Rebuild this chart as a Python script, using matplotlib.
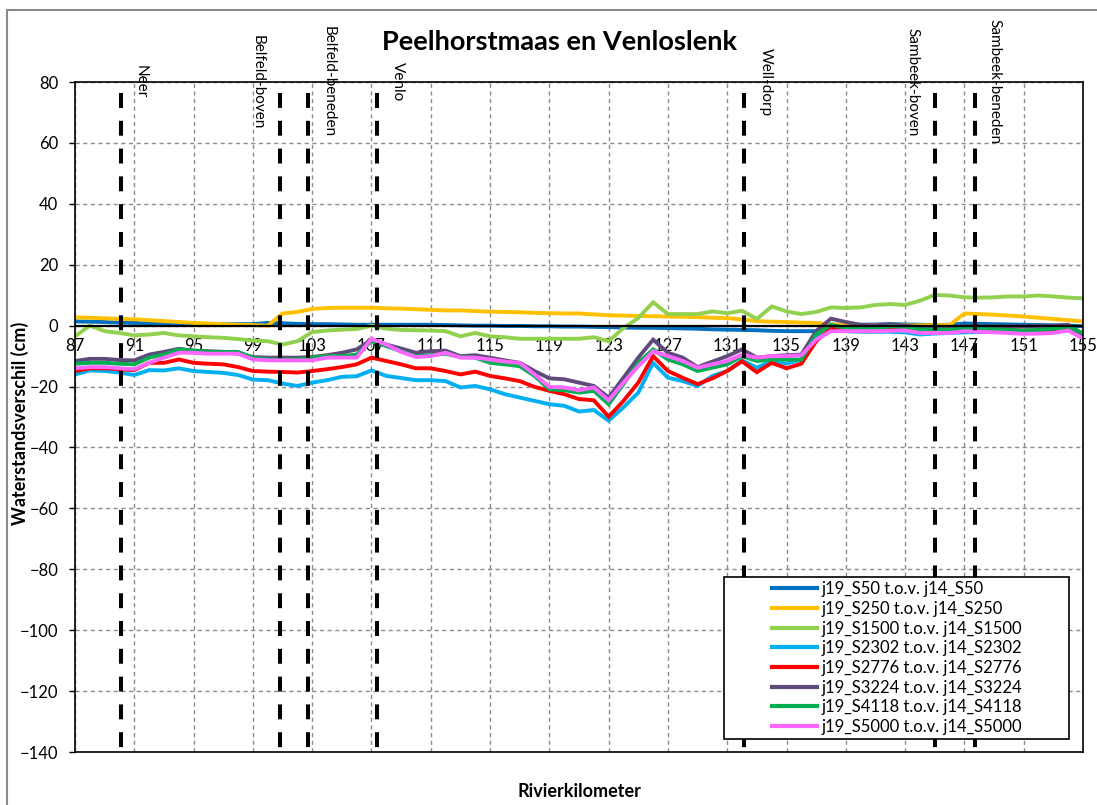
import numpy as np
import matplotlib.pyplot as plt
from matplotlib.patches import Rectangle
from matplotlib.lines import Line2D

plt.rcParams['font.family'] = ['Lato', 'DejaVu Sans']

# Rivierkilometers
km = np.arange(87, 156)

# Waterstandsverschil per scenario (cm)
s50 = [1.4, 1.3, 1.2, 1.0, 0.9, 0.8, 0.7, 0.6, 0.5, 0.5, 0.5, 0.5, 0.5, 0.9, 0.8, 0.6, 0.5, 0.5, 0.4, 0.3,
       0.3, 0.3, 0.3, 0.3, 0.3, 0.2, 0.1, 0.0, 0.0, -0.1, -0.1, -0.2, -0.2, -0.3, -0.3, -0.4, -0.5, -0.6, -0.7,
       -0.7, -0.8, -0.9, -1.0, -1.2, -1.3, -1.4, -1.5, -1.7, -1.8, -1.8, -1.8, 0.3, 0.3, 0.3, 0.4, 0.5, 0.4,
       0.3, 0.2, 0.3, 0.7, 0.6, 0.5, 0.4, 0.3, 0.2, 0.1, 0.0, -0.2]
s250 = [2.7, 2.6, 2.4, 2.2, 2.1, 1.8, 1.5, 1.2, 0.9, 0.7, 0.5, 0.3, 0.2, 0.0, 4.0, 4.5, 5.5, 5.8, 5.9, 5.9,
        5.9, 5.7, 5.6, 5.4, 5.2, 5.0, 5.0, 4.8, 4.6, 4.5, 4.4, 4.2, 4.1, 4.0, 4.0, 3.7, 3.4, 3.3, 3.2, 3.1,
        3.0, 2.9, 2.8, 2.6, 2.5, 2.0, 1.5, 1.3, 1.2, 1.0, 0.9, 0.4, 0.3, 0.2, 0.2, 0.2, 0.1, 0.1, 0.2, 0.2,
        4.0, 3.8, 3.6, 3.3, 3.0, 2.6, 2.2, 1.8, 1.4]
s1500 = [-3.5, 0.0, -1.8, -2.4, -3.2, -2.9, -2.4, -3.2, -3.5, -3.8, -4.0, -4.4, -4.9, -5.1, -6.2, -5.1,
         -2.1, -1.6, -1.3, -1.1, 0.0, -1.0, -1.4, -1.5, -1.6, -1.8, -3.5, -2.4, -3.5, -3.8, -4.3, -4.3, -4.3,
         -4.3, -4.3, -3.8, -5.1, -0.8, 2.5, 7.7, 3.8, 3.8, 3.8, 4.7, 4.1, 4.9, 2.2, 6.3, 4.7, 3.8, 4.5, 6.0,
         5.8, 6.0, 6.8, 7.1, 6.8, 8.2, 10.1, 9.9, 9.3, 9.2, 9.3, 9.6, 9.6, 9.9, 9.6, 9.2, 9.0]
s2302 = [-16.0, -14.7, -14.9, -15.4, -16.2, -14.6, -14.7, -14.0, -14.9, -15.2, -15.5, -16.2, -17.7, -17.9,
         -19.0, -19.8, -18.7, -17.9, -16.8, -16.6, -14.7, -16.5, -17.2, -17.9, -17.9, -18.2, -20.3, -19.8,
         -20.9, -22.5, -23.6, -24.7, -25.8, -26.3, -28.2, -27.7, -31.2, -26.8, -22.0, -12.2, -17.1, -18.2,
         -19.8, -16.5, -14.9, -11.4, -13.8, -11.6, -12.5, -11.1, -4.0, -1.6, -1.8, -2.0, -2.0, -2.0, -2.2,
         -2.9, -2.6, -2.4, -2.2, -2.1, -2.1, -2.1, -2.1, -2.0, -1.8, -0.8, -2.7]
s2776 = [-14.9, -14.0, -14.0, -14.3, -14.6, -12.2, -12.2, -11.1, -12.2, -12.5, -12.7, -13.6, -14.9, -15.1,
         -15.2, -15.4, -14.9, -14.3, -13.6, -12.7, -10.5, -11.6, -12.7, -14.0, -14.0, -14.9, -16.0, -15.1,
         -16.5, -17.3, -18.2, -20.1, -21.4, -22.5, -24.1, -24.5, -29.9, -24.7, -18.7, -10.0, -14.9, -17.1,
         -19.2, -17.3, -14.9, -11.7, -15.3, -12.2, -14.0, -12.5, -5.1, -0.8, -1.3, -1.3, -1.2, -1.0, -1.2,
         -1.3, -1.3, -1.4, -1.3, -1.3, -1.4, -1.5, -1.6, -1.5, -1.3, -0.8, -2.4]
s3224 = [-11.6, -10.9, -10.9, -11.3, -11.4, -9.5, -8.6, -7.6, -8.2, -8.4, -8.6, -9.2, -10.3, -10.5, -10.5,
         -10.5, -10.3, -9.7, -8.9, -7.8, -4.6, -6.2, -7.5, -8.9, -8.4, -8.2, -10.0, -9.7, -10.5, -11.4,
         -12.2, -14.9, -17.3, -17.6, -18.7, -19.8, -23.6, -17.1, -10.5, -4.6, -8.9, -10.5, -13.6, -11.8,
         -10.0, -7.8, -10.5, -10.0, -9.7, -9.5, -1.8, 2.3, 1.2, 0.3, 0.1, 0.5, 0.0, -0.5, -0.9, -0.5, -0.2,
         -0.2, -0.2, -0.2, -0.2, -0.1, 0.0, 0.3, -2.9]
s4118 = [-12.5, -12.2, -12.2, -12.5, -12.7, -10.5, -9.5, -7.8, -8.2, -8.6, -8.6, -8.6, -10.5, -11.1, -11.1,
         -11.1, -10.5, -10.0, -10.0, -9.5, -5.1, -6.7, -8.4, -10.0, -9.7, -9.2, -10.3, -10.5, -12.2, -12.7,
         -13.3, -16.5, -20.9, -21.2, -22.0, -21.4, -25.8, -19.2, -12.2, -7.8, -11.1, -12.7, -14.9, -13.8,
         -12.7, -10.0, -11.6, -11.1, -11.1, -11.1, -2.9, 0.3, -0.8, -1.0, -1.0, -0.2, -0.5, -1.3, -1.3, -1.3,
         -1.0, -1.1, -1.2, -1.4, -1.6, -1.4, -1.0, -0.5, -2.4]
s5000 = [-14.0, -13.6, -13.6, -14.0, -14.3, -12.2, -10.5, -8.9, -8.9, -9.2, -9.2, -9.2, -11.1, -11.4, -11.4,
         -11.4, -11.4, -10.5, -10.5, -10.5, -4.3, -6.2, -8.6, -10.3, -10.0, -8.9, -10.5, -10.5, -11.1, -11.8,
         -12.2, -16.0, -20.1, -20.3, -21.2, -20.3, -24.5, -18.7, -13.3, -8.4, -10.0, -11.6, -13.8, -12.7,
         -11.6, -9.5, -10.5, -10.0, -10.0, -9.7, -4.6, -1.8, -1.8, -1.8, -1.8, -1.7, -1.6, -2.4, -2.4, -2.4,
         -1.8, -2.0, -2.2, -2.4, -2.7, -2.6, -2.4, -1.6, -4.2]

series = [s50, s250, s1500, s2302, s2776, s3224, s4118, s5000]
labels = ['j19_S50 t.o.v. j14_S50', 'j19_S250 t.o.v. j14_S250', 'j19_S1500 t.o.v. j14_S1500',
          'j19_S2302 t.o.v. j14_S2302', 'j19_S2776 t.o.v. j14_S2776', 'j19_S3224 t.o.v. j14_S3224',
          'j19_S4118 t.o.v. j14_S4118', 'j19_S5000 t.o.v. j14_S5000']
colors = ['#0070C0', '#FFC000', '#92D050', '#00B0F0', '#FF0000', '#604A7B', '#00B050', '#FF66FF']

# Locaties (stuwen / plaatsen)
loc_km = [90.1, 100.8, 102.7, 107.4, 132.1, 145.0, 147.7]
loc_names = ['Neer', 'Belfeld-boven', 'Belfeld-beneden', 'Venlo', 'Well-dorp', 'Sambeek-boven', 'Sambeek-beneden']
loc_label_km = [91.4, 99.3, 104.1, 108.8, 133.6, 143.5, 149.0]

y_min, y_max = -140, 80

fig = plt.figure(figsize=(10.97, 8.05), dpi=100)
ax = fig.add_axes([0.0684, 0.0658, 0.9188, 0.8323])

for vals, lab, col in zip(series, labels, colors):
    ax.plot(km, vals, color=col, lw=2.8, label=lab, solid_joinstyle='miter')

# zwarte stippellijnen voor de locaties
for xk in loc_km:
    ax.plot([xk, xk], [76.5, y_min], color='black', lw=2.9, dashes=(3.7, 3.2),
            dash_capstyle='butt', zorder=5)
for xk, name in zip(loc_label_km, loc_names):
    ax.text(xk, y_max, name, rotation=270, ha='center', va='center', fontsize=11,
            clip_on=False, zorder=6)

ax.set_xlim(87, 155)
ax.set_ylim(y_min, y_max)
ax.set_xticks(np.arange(87, 156, 4))
ax.set_yticks(np.arange(-140, 81, 20))
ax.grid(True, color='#8c8c8c', linestyle=(0, (3, 2.5)), lw=1)
ax.tick_params(axis='x', length=0, labelbottom=False)
ax.tick_params(axis='y', direction='out', length=4, width=1, labelsize=12, pad=8)
for sp in ax.spines.values():
    sp.set_linewidth(1.2)

# x-as met labels op de nullijn
ax.axhline(0, color='black', lw=1.6, zorder=2)
secax = ax.secondary_xaxis((0 - y_min) / (y_max - y_min))
secax.set_xticks(np.arange(87, 156, 4))
secax.xaxis.set_ticks_position('bottom')
secax.tick_params(axis='x', length=0, labelsize=12, pad=9,
                  bottom=True, top=False, labelbottom=True, labeltop=False)
for sp in secax.spines.values():
    sp.set_visible(False)

ax.set_ylabel('Waterstandsverschil (cm)', fontsize=13, fontweight='bold')
ax.yaxis.set_label_coords(-0.046, 0.49)
ax.set_xlabel('Rivierkilometer', fontsize=13, fontweight='bold', labelpad=22)
fig.text(0.51, 0.948, 'Peelhorstmaas en Venloslenk', ha='center', va='center',
         fontsize=19.5, fontweight='bold')

ax.add_patch(Rectangle((0.6438, 0.0194), 0.3423, 0.2418, transform=ax.transAxes,
                       facecolor='white', edgecolor='black', lw=1.2, zorder=8))
leg = ax.legend(loc='center', bbox_to_anchor=(0.8155, 0.1403), frameon=False, fontsize=12,
                handlelength=2.7, handletextpad=0.25, labelspacing=0.22, borderpad=0)
leg.set_zorder(9)
for h in leg.get_lines():
    h.set_linewidth(3)

# kader om de grafiek
fig.add_artist(Line2D([7 / 1097, 7 / 1097], [0, 1 - 10 / 805], color='#8c8c8c', lw=1.5))
fig.add_artist(Line2D([7 / 1097, 1], [1 - 10 / 805, 1 - 10 / 805], color='#8c8c8c', lw=1.5))

fig.savefig('out.png', dpi=100)
